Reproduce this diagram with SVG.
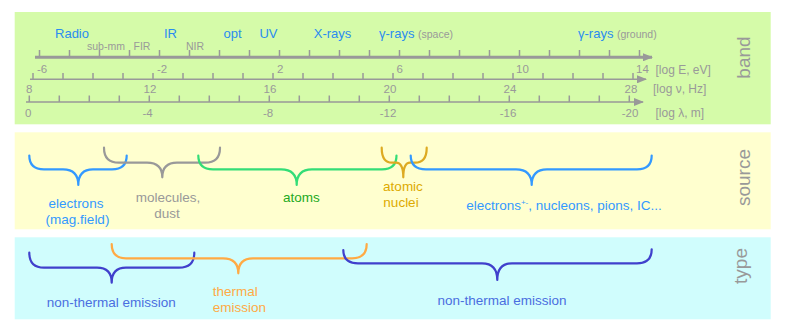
<svg xmlns="http://www.w3.org/2000/svg" width="789" height="333" viewBox="0 0 789 333">
<style>
text{font-family:"Liberation Sans",Arial,sans-serif}
.ax{stroke:#999;fill:none}
.tk{stroke:#999;stroke-width:1.5}
.num{font-size:11.5px;fill:#999}
.unit{font-size:12px;fill:#999}
.band{font-size:13px;fill:#2a8cf0;text-anchor:middle}
.sub{font-size:10.5px;fill:#999}
.side{font-size:19px;fill:#999;text-anchor:middle}
.br{fill:none;stroke-width:2.2;stroke-linecap:round;stroke-linejoin:round}
.lbl{font-size:13.5px}
</style>
<defs>
<marker id="ah" viewBox="0 0 10 8" refX="9" refY="4" markerWidth="10" markerHeight="8" markerUnits="userSpaceOnUse" orient="auto"><path d="M0,0 L10,4 L0,8 Z" fill="#999"/></marker>
</defs>

<g id="panels">
<rect x="14.7" y="12" width="756" height="112.3" fill="#d5fba9"/>
<rect x="14.7" y="132.3" width="756" height="97" fill="#ffffcf"/>
<rect x="14.7" y="237.3" width="756" height="82" fill="#d0fdfd"/>
</g>

<g id="axes">
<path class="ax" d="M35,57.3 H652" stroke-width="3" marker-end="url(#ah)"/>
<path class="tk" stroke-width="2" d="M39.5,50V57 M69.5,50V57 M99.5,50V57 M129.5,50V57 M159.5,50V57 M189.5,50V57 M219.5,50V57 M249.5,50V57 M279.5,50V57 M309.5,50V57 M339.5,50V57 M369.5,50V57 M399.5,50V57 M429.5,50V57 M459.5,50V57 M489.5,50V57 M519.5,50V57 M549.5,50V57 M579.5,50V57 M609.5,50V57 M639.5,50V57"/>
<path class="ax" d="M30,79.3 H646" stroke-width="1.6" marker-end="url(#ah)"/>
<path class="tk" d="M33,73V79 M63,73V79 M93,73V79 M123,73V79 M153,73V79 M183,73V79 M213,73V79 M243,73V79 M273,73V79 M303,73V79 M333,73V79 M363,73V79 M393,73V79 M423,73V79 M453,73V79 M483,73V79 M513,73V79 M543,73V79 M573,73V79 M603,73V79 M633,73V79"/>
<path class="ax" d="M26,102 H643" stroke-width="1.6" marker-end="url(#ah)"/>
<path class="tk" d="M29.3,95.5V102 M59.3,95.5V102 M89.3,95.5V102 M119.3,95.5V102 M149.3,95.5V102 M179.3,95.5V102 M209.3,95.5V102 M239.3,95.5V102 M269.3,95.5V102 M299.3,95.5V102 M329.3,95.5V102 M359.3,95.5V102 M389.3,95.5V102 M419.3,95.5V102 M449.3,95.5V102 M479.3,95.5V102 M509.3,95.5V102 M539.3,95.5V102 M569.3,95.5V102 M599.3,95.5V102 M629.3,95.5V102"/>
</g>

<g id="band-labels">
<text class="band" x="72" y="38">Radio</text>
<text class="band" x="170.5" y="38">IR</text>
<text class="band" x="232.5" y="38">opt</text>
<text class="band" x="268.5" y="38">UV</text>
<text class="band" x="332.5" y="38">X-rays</text>
<text class="band" x="379" y="38" style="text-anchor:start">γ-rays <tspan class="sub" style="fill:#999">(space)</tspan></text>
<text class="band" x="578" y="38" style="text-anchor:start">γ-rays <tspan class="sub" style="fill:#999">(ground)</tspan></text>
<text class="sub" x="106" y="49.5" text-anchor="middle">sub-mm</text>
<text class="sub" x="142" y="49.5" text-anchor="middle">FIR</text>
<text class="sub" x="195" y="49.5" text-anchor="middle">NIR</text>
</g>

<g id="scale-labels">
<text class="num" x="37" y="72.5">-6</text>
<text class="num" x="157" y="72.5">-2</text>
<text class="num" x="277" y="72.5">2</text>
<text class="num" x="396.5" y="72.5">6</text>
<text class="num" x="516" y="72.5">10</text>
<text class="num" x="636" y="72.5">14</text>
<text class="unit" x="655.5" y="74">[log E, eV]</text>
<g text-anchor="middle">
<text class="num" x="29.3" y="92.5">8</text>
<text class="num" x="150" y="92.5">12</text>
<text class="num" x="270" y="92.5">16</text>
<text class="num" x="390" y="92.5">20</text>
<text class="num" x="510" y="92.5">24</text>
<text class="num" x="631" y="92.5">28</text>
<text class="num" x="28.3" y="116.7">0</text>
<text class="num" x="147.5" y="116.7">-4</text>
<text class="num" x="268" y="116.7">-8</text>
<text class="num" x="388" y="116.7">-12</text>
<text class="num" x="508" y="116.7">-16</text>
<text class="num" x="630" y="116.7">-20</text>
</g>
<text class="unit" x="653" y="93.3">[log ν, Hz]</text>
<text class="unit" x="655.5" y="116.7">[log λ, m]</text>
</g>

<g id="side-labels">
<text class="side" transform="translate(750,57.5) rotate(-90)">band</text>
<text class="side" transform="translate(750,177.5) rotate(-90)">source</text>
<text class="side" transform="translate(747,266) rotate(-90)">type</text>
</g>

<g id="connectors">
<path id="br-electrons" class="br" stroke="#3399ff" d="M29.3,155.5 Q29.3,169.3 44,169.3 L63,169.3 Q78.3,169.3 78.3,185 Q78.3,169.3 93,169.3 L112,169.3 Q126.7,169.3 126.7,155.5"/>
<path id="br-molecules" class="br" stroke="#999999" d="M104,147.7 Q104,162.7 119,162.7 L147,162.7 Q162.3,162.7 162.3,177.3 Q162.3,162.7 177,162.7 L205,162.7 Q220,162.7 220,147.7"/>
<path id="br-atoms" class="br" stroke="#33dd77" d="M198.3,155.5 Q198.3,169.3 213,169.3 L281,169.3 Q296.7,169.3 296.7,185 Q296.7,169.3 312,169.3 L382,169.3 Q396.5,169.3 396.5,155.5"/>
<path id="br-nuclei" class="br" stroke="#ddaa22" d="M381.7,147.7 Q381.7,162.7 392,162.7 L396,162.7 Q403.3,162.7 403.3,177.3 Q403.3,162.7 410,162.7 L415,162.7 Q426.7,162.7 426.7,147.7"/>
<path id="br-electrons2" class="br" stroke="#3399ff" d="M410.7,155.5 Q410.7,169.3 426,169.3 L516,169.3 Q531.7,169.3 531.7,185 Q531.7,169.3 547,169.3 L637,169.3 Q651.7,169.3 651.7,155.5"/>
<path id="br-nonthermal1" class="br" stroke="#4040cc" d="M29.3,252.7 Q29.3,267.7 44,267.7 L97,267.7 Q111.7,267.7 111.7,282.7 Q111.7,267.7 126,267.7 L179,267.7 Q194.3,267.7 194.3,252.7"/>
<path id="br-thermal" class="br" stroke="#ffaa44" d="M111.7,244 Q111.7,258.3 126,258.3 L223,258.3 Q238.3,258.3 238.3,273.3 Q238.3,258.3 253,258.3 L352,258.3 Q366.7,258.3 366.7,244"/>
<path id="br-nonthermal2" class="br" stroke="#4040cc" d="M343.3,250 Q343.3,263.3 358,263.3 L482,263.3 Q497.3,263.3 497.3,280 Q497.3,263.3 512,263.3 L637,263.3 Q651.7,263.3 651.7,249.3"/>
</g>

<g id="source-labels" class="lbl" text-anchor="middle">
<g id="n-electrons"><text class="lbl" x="76" y="207.7" fill="#3399ff">electrons</text><text class="lbl" x="77.5" y="224.3" fill="#3399ff">(mag.field)</text></g>
<g id="n-molecules"><text class="lbl" x="168" y="202.3" fill="#999">molecules,</text><text class="lbl" x="167" y="218.3" fill="#999">dust</text></g>
<g id="n-atoms"><text class="lbl" x="301.3" y="202.3" fill="#22aa22">atoms</text></g>
<g id="n-nuclei"><text class="lbl" x="403" y="190.7" fill="#ddaa00">atomic</text><text class="lbl" x="401" y="206.7" fill="#ddaa00">nuclei</text></g>
<g id="n-electrons2"><text class="lbl" x="564" y="210" fill="#3399ff">electrons<tspan font-size="8" dy="-5">+-</tspan><tspan dy="5">, nucleons, pions, IC...</tspan></text></g>
</g>

<g id="type-labels">
<g id="n-nonthermal1"><text class="lbl" x="111.3" y="307.3" fill="#4a6ee0" text-anchor="middle">non-thermal emission</text></g>
<g id="n-thermal"><text class="lbl" x="212.7" y="295.7" fill="#ffaa44">thermal</text><text class="lbl" x="212.7" y="311.7" fill="#ffaa44">emission</text></g>
<g id="n-nonthermal2"><text class="lbl" x="502" y="305" fill="#4a6ee0" text-anchor="middle">non-thermal emission</text></g>
</g>
</svg>
